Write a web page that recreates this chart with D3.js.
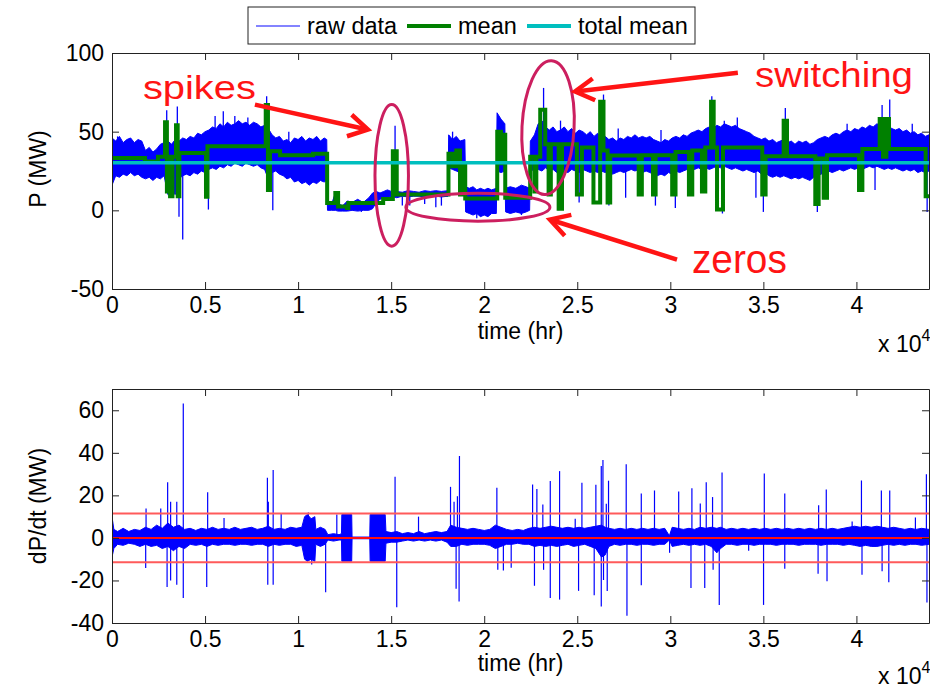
<!DOCTYPE html>
<html>
<head>
<meta charset="utf-8">
<script src="https://cdn.jsdelivr.net/npm/d3@7"></script>
<style>
  body { margin: 0; background: #fff; }
  svg { font-family: "Liberation Sans", Arial, sans-serif; }
</style>
</head>
<body>
<svg id="chart" width="930" height="690"></svg>
<script>
// ---- data (time in hr, power in MW) ----
const xTicks = [0, 5000, 10000, 15000, 20000, 25000, 30000, 35000, 40000];
const xTickLabels = ["0", "0.5", "1", "1.5", "2", "2.5", "3", "3.5", "4"];
const pTicks = [-50, 0, 50, 100];
const dTicks = [-40, -20, 0, 20, 40, 60];

// raw data band: [time, upper edge, lower edge]
const rawBand = [
  [0, 46, 16], [200, 44, 22], [400, 47, 21], [600, 43, 23], [800, 45, 22], [1000, 46, 24], [1200, 43, 22], [1400, 45, 23],
  [1600, 44, 21], [1800, 38, 20], [2000, 40, 21], [2200, 37, 19], [2400, 39, 21], [2600, 42, 20], [2800, 43, 22],
  [3000, 44, 10], [3200, 42, 12], [3400, 45, 10], [3600, 44, 20], [3800, 46, 22], [4000, 45, 23], [4200, 47, 22],
  [4400, 46, 24], [4600, 49, 23], [4800, 48, 25], [5000, 50, 24], [5200, 51, 26], [5400, 53, 27], [5600, 52, 26],
  [5800, 55, 28], [6000, 53, 27], [6200, 56, 29], [6400, 54, 28], [6600, 55, 30], [6800, 57, 29], [7000, 55, 28],
  [7200, 56, 30], [7400, 54, 29], [7600, 56, 28], [7800, 55, 29], [8000, 53, 27], [8200, 54, 26], [8400, 52, 20],
  [8600, 48, 24], [8800, 46, 25], [9000, 47, 23], [9200, 44, 22], [9400, 45, 20], [9600, 43, 21], [9800, 46, 18],
  [10000, 45, 19], [10200, 47, 17], [10400, 44, 18], [10600, 46, 16], [10800, 45, 18], [11000, 47, 17], [11200, 44, 19],
  [11400, 46, 18], [11540, 45, 19],
  [11580, 3, 0], [11800, 4, 0], [12000, 11, 0], [12150, 4, -0.5], [12400, 3, -0.5], [12650, 6, -0.5], [12900, 5, 0],
  [13200, 7, -0.5], [13500, 5, 0], [13800, 8, 0], [14000, 11, 1], [14200, 12, 5], [14400, 11, 7], [14600, 12, 8],
  [14800, 13, 8], [15000, 12, 9], [15300, 12, 8], [15600, 11.5, 9], [15900, 12.5, 8.5], [16200, 12, 9], [16500, 11.5, 9],
  [16800, 12.5, 8.5], [17100, 12, 9], [17400, 12.5, 9], [17700, 12, 8.5], [18060, 12.5, 9],
  [18090, 48, 27], [18300, 45, 26], [18500, 47, 25], [18700, 44, 24], [18960, 45, 22],
  [19000, 15, -1], [19200, 14, -2], [19400, 15, -3], [19600, 13, -2], [19800, 14, -4], [20000, 13, -3], [20200, 14, -4],
  [20400, 13, -2], [20650, 14, -2],
  [20690, 62, 25], [20900, 58, 24], [21110, 55, 25],
  [21150, 14, -1], [21400, 15, -2], [21700, 14, -1], [22000, 16, -2], [22250, 15, -1], [22440, 14, 0],
  [22480, 44, 25], [22700, 48, 26], [22900, 55, 26], [23100, 57, 25], [23300, 53, 27], [23500, 51, 25], [23700, 53, 26],
  [23900, 50, 24], [24100, 51, 26], [24300, 53, 25], [24500, 50, 24], [24700, 52, 26], [24900, 49, 25], [25100, 51, 24],
  [25300, 50, 26], [25500, 48, 25], [25700, 50, 24], [25900, 47, 25], [26100, 49, 24], [26300, 46, 25], [26500, 47, 24],
  [26700, 45, 25], [26900, 46, 23], [27100, 44, 24], [27300, 46, 25], [27500, 45, 24], [27700, 47, 25], [27900, 46, 26],
  [28100, 48, 25], [28300, 46, 26], [28500, 47, 24], [28700, 46, 25], [28900, 47, 24], [29100, 45, 23], [29300, 44, 22],
  [29500, 43, 23], [29700, 45, 22], [29900, 44, 24], [30100, 46, 23], [30300, 47, 25], [30500, 46, 24], [30700, 48, 25],
  [30900, 47, 26], [31100, 49, 25], [31300, 50, 26], [31500, 51, 27], [31700, 50, 26], [31900, 52, 27], [32100, 53, 26],
  [32300, 52, 27], [32500, 54, 28], [32700, 53, 27], [32900, 55, 28], [33100, 54, 27], [33300, 53, 26], [33500, 54, 27],
  [33700, 52, 26], [33900, 51, 25], [34100, 50, 26], [34300, 49, 25], [34500, 47, 24], [34700, 46, 25], [34900, 45, 23],
  [35100, 46, 24], [35300, 44, 22], [35500, 45, 21], [35700, 43, 22], [35900, 44, 21], [36100, 45, 22], [36300, 43, 21],
  [36500, 44, 20], [36700, 42, 21], [36900, 44, 20], [37100, 43, 21], [37300, 44, 20], [37500, 42, 19], [37700, 43, 21],
  [37900, 45, 22], [38100, 46, 23], [38300, 47, 24], [38500, 46, 25], [38700, 48, 24], [38900, 49, 25], [39100, 48, 26],
  [39300, 50, 25], [39500, 51, 26], [39700, 50, 27], [39900, 52, 26], [40100, 51, 27], [40300, 53, 26], [40500, 52, 27],
  [40700, 54, 28], [40900, 53, 27], [41100, 55, 28], [41300, 54, 27], [41500, 53, 26], [41700, 54, 27], [41900, 52, 26],
  [42100, 51, 27], [42300, 52, 26], [42500, 50, 25], [42700, 51, 26], [42900, 49, 25], [43100, 50, 26], [43300, 48, 24],
  [43500, 49, 25], [43700, 47, 24], [43900, 48, 25]
];

// single spikes of the raw data: [time, base, tip]
const rawSpikes = [[300, 40, 47], [2940, 45, 63.6], [3510, 45, 66], [5540, 45, 60], [5980, 48, 63], [6600, 50, 60], [7300, 50, 59],
                   [8310, 50, 72.5], [9500, 40, 50], [15210, 12, 53.8], [18300, 40, 50], [23190, 45, 77.8], [24100, 45, 57],
                   [26410, 45, 73.6], [27200, 40, 52], [29500, 40, 51], [32230, 45, 72.5], [32900, 48, 57], [33600, 48, 59],
                   [36180, 42, 65], [39500, 45, 55], [41380, 45, 67], [41790, 45, 70.4], [43000, 45, 55],
                   [0, 30, 15], [3600, 25, -4], [3800, 25, -18.6], [5180, 30, 0.5], [8640, 30, 0], [13400, 2, -1],
                   [15600, 9, 3], [16000, 9, 3], [16800, 9, 4], [17400, 9, 2], [17700, 9, 3], [19600, 2, -5], [22000, 2, -3],
                   [24000, 30, 0], [25100, 30, 5], [26700, 30, 3], [27600, 30, 8], [29200, 30, 3], [30270, 30, 1.5],
                   [32800, 30, -2], [34600, 30, 8], [35000, 30, -1], [37900, 30, -1], [41000, 30, 13], [43800, 30, -1]];

// segment mean (step after each time)
const meanT = [0, 1770, 2470, 2850, 2950, 3050, 3120, 3250, 3440, 3530, 3620, 5050, 5130, 8260, 8380, 8490, 9030, 10800,
               11560, 12000, 12150, 12630, 12700, 14570, 15090, 15300, 18080, 18300, 18500, 18700, 18800, 18980,
               20700, 20900, 21000, 21130, 22470, 22700, 22800, 23010, 23280, 23460, 23580, 24000, 24180, 24980, 25250,
               25870, 26230, 26410, 26630, 26770, 28300, 28470, 29070, 29210, 30100, 30280, 31000, 31180, 31700, 31880,
               32190, 32330, 32510, 32830, 34940, 35120, 36090, 36270, 37790, 37970, 38240, 38420, 40140, 40320,
               41250, 41430, 41610, 41750, 43720, 43900];
const meanV = [33.3, 31, 34, 56, 12, 34, 9, 34, 54, 9, 36.5, 8.6, 40.7, 67, 13, 37.5, 35, 36,
               4.7, 11, 2.5, 1.5, 4.7, 7.2, 37.5, 10, 36, 28, 38, 10, 30, 7.5,
               50, 30, 48, 8, 34, 12, 34, 64, 42, 10, 42, 1, 42, 10, 40,
               5, 69, 38, 5, 34.8, 10, 35, 10, 35, 10, 37, 10, 38, 12, 40,
               69, 40, 0.5, 40, 10, 34.4, 57, 34.4, 4, 33, 8, 35, 13, 39,
               58, 34, 58, 39, 9, 9];
const totalMean = 30.3;

// dP/dt band: [time, upper edge, lower edge]
const dBand = [
  [0, 10, -9], [100, 4, -5], [300, 3, -3], [600, 4.5, -3.5], [900, 3, -2.5], [1200, 4, -3], [1500, 3.5, -4], [1800, 5, -3],
  [2100, 4, -4], [2400, 6, -3.5], [2700, 4.5, -5], [3000, 7, -4], [3300, 5, -6], [3600, 6, -4], [3900, 4, -5], [4200, 4.5, -3],
  [4500, 3.5, -3.5], [4800, 4.5, -3], [5100, 4, -4], [5400, 5, -3], [5700, 4, -3.5], [6000, 4.5, -3], [6300, 4, -3],
  [6600, 5, -3.5], [6900, 4, -3], [7200, 4.5, -3], [7500, 5, -3.5], [7800, 4, -3], [8100, 4.5, -3], [8400, 5.5, -4],
  [8700, 4, -3], [9000, 4.5, -3.5], [9300, 4, -3], [9600, 5, -3], [9900, 4.5, -4], [10200, 5, -3.5],
  [10350, 10, -10], [10500, 11, -11], [10700, 9, -10], [10900, 10, -11], [10950, 4, -3], [11200, 5, -4], [11450, 4, -3],
  [11600, 1.5, -1], [11900, 2, -1.5], [12200, 1.5, -1], [12330, 2, -1], [12350, 11, -11], [12880, 11, -11],
  [12900, 0.4, -0.4], [13850, 0.4, -0.4], [13870, 11, -11], [14680, 11, -11],
  [14720, 3, -2.5], [15000, 2.5, -2], [15300, 3, -2], [15600, 2, -1.5], [15900, 2.5, -1], [16200, 2, -1.5], [16500, 3, -1],
  [16800, 2, -1.5], [17100, 2.5, -1], [17400, 3, -1.5], [17700, 2.5, -1], [18000, 3, -2], [18200, 6, -4], [18500, 5, -4],
  [18800, 4.5, -3], [19100, 4, -3.5], [19400, 4.5, -3], [19700, 4, -3], [20000, 3.5, -3], [20300, 4, -3.5], [20600, 6, -5],
  [20900, 5, -4], [21200, 4, -3], [21500, 3.5, -3], [21800, 4, -2.5], [22100, 3.5, -3], [22400, 4.5, -3], [22700, 5, -4],
  [23000, 4.5, -3.5], [23300, 5, -4], [23600, 5.5, -3.5], [23900, 5, -4], [24200, 4.5, -3.5], [24500, 5, -3], [24800, 4.5, -4],
  [25100, 5, -3.5], [25400, 4.5, -3], [25700, 5, -4], [26000, 5.5, -5], [26300, 6, -9], [26500, 5, -8], [26700, 4.5, -4],
  [27000, 4, -3], [27300, 4.5, -3.5], [27600, 4, -3], [27900, 4.5, -3], [28200, 4, -3.5], [28500, 4.5, -3], [28800, 4, -3],
  [29100, 4.5, -3.5], [29400, 4, -3], [29700, 4.5, -3], [29950, 1, -1], [30100, 5, -4], [30400, 4.5, -3.5], [30700, 4, -3],
  [31000, 4.5, -3.5], [31300, 4, -3], [31600, 5, -3.5], [31900, 4.5, -3], [32200, 5, -4], [32500, 4.5, -7], [32700, 5, -5],
  [33000, 4, -3], [33300, 4.5, -3], [33600, 4, -3.5], [33900, 4.5, -3], [34200, 4, -3], [34500, 4.5, -3.5], [34800, 4, -3],
  [35100, 4.5, -3], [35400, 4, -3], [35700, 4.5, -3.5], [36000, 4, -3], [36300, 4.5, -3], [36600, 4, -3], [36900, 4.5, -3.5],
  [37200, 4, -3], [37500, 4.5, -3], [37800, 4, -3], [38100, 4.5, -3.5], [38400, 4, -3], [38700, 4.5, -3], [39000, 4, -3],
  [39300, 4.5, -3.5], [39600, 5, -3], [39900, 5.5, -3.5], [40200, 5, -4], [40500, 5.5, -3.5], [40800, 5, -4], [41100, 5.5, -4],
  [41400, 5, -3.5], [41700, 4.5, -3], [42000, 5, -3.5], [42300, 4.5, -3], [42600, 4, -3.5], [42900, 4.5, -3], [43200, 4, -3],
  [43500, 4.5, -3.5], [43900, 4, -3]
];

// dP/dt spikes: [time, tip]
const dSpikes = [[3830, 63.2], [2990, 26.2], [3150, 17], [3480, 17], [2620, 13.8], [1830, 13.8], [5140, 21.5], [6020, 9.4],
                 [8350, 28.3], [8660, 31.9], [8400, 17], [9090, 11.6], [15210, 28.8], [16470, 10], [18190, 24], [18670, 38.5],
                 [18560, 19.6], [18380, 17], [20680, 23.6], [10550, 12], [12080, 11],
                 [22600, 25.1], [22830, 23], [23150, 15.7], [23550, 26.7], [24050, 31.4], [24890, 9], [25250, 25.9], [26000, 25],
                 [26290, 33.8], [26380, 36.6], [26680, 26.9], [26560, 16], [27630, 34.6], [28440, 20.9], [29150, 22.3],
                 [30450, 21.8], [31160, 23.4], [31610, 16.2], [31930, 26.2], [32270, 19.2], [32780, 30.8], [35050, 30.3],
                 [36150, 20.9], [37970, 15.4], [38380, 22.8], [40270, 27], [41340, 22.3], [41790, 22.3], [43170, 9.6],
                 [43760, 29.9], [39770, 7.7],
                 [1810, -14.2], [2960, -23.1], [3150, -20], [3480, -22], [3830, -28.3], [5090, -23.1], [8370, -22], [8660, -22],
                 [10730, -12.5], [11480, -25.6], [15300, -32.6], [18490, -23.9], [18650, -29.9], [20730, -15], [21030, -15.3],
                 [21450, -14], [22700, -22.5], [23190, -15], [23550, -28.3], [24050, -29], [25070, -24.9], [25910, -27],
                 [26290, -32.3], [26410, -19.8], [26610, -25], [27670, -36.6], [28440, -22.2], [29960, -7], [31110, -23.5],
                 [31850, -23.5], [32300, -15], [32630, -31.5], [34210, -6], [35010, -31.5], [36150, -14.5], [37940, -16.8],
                 [38420, -20.4], [40300, -17.3], [41380, -15.7], [41740, -20.8], [43790, -30.4]];
const threshold = 11.5;

// ---- layout ----
const svg = d3.select("#chart");
const left = 112, right = 929;
const topBox = { y0: 53, y1: 289 };
const botBox = { y0: 389, y1: 623 };
const fontSize = 23;
const fontFamily = "Liberation Sans, Arial, sans-serif";

const x = d3.scaleLinear().domain([0, 43900]).range([left, right]);
const yP = d3.scaleLinear().domain([-50, 100]).range([topBox.y1, topBox.y0]);
const yD = d3.scaleLinear().domain([-40, 70]).range([botBox.y1, botBox.y0]);

const blue = "#0000ff", green = "#008000", cyan = "#00bfbf";

function clip(id, box) {
    svg.append("clipPath").attr("id", id).append("rect")
        .attr("x", left).attr("y", box.y0).attr("width", right - left).attr("height", box.y1 - box.y0);
}
clip("clip-top", topBox);
clip("clip-bot", botBox);

// axes with inward ticks on all four sides
function frame(box, yScale, yTicks) {
    const g = svg.append("g");
    const fmt = d => xTickLabels[xTicks.indexOf(d)];
    const axes = [
        g.append("g").attr("transform", `translate(0,${box.y1})`)
            .call(d3.axisBottom(x).tickValues(xTicks).tickFormat(fmt).tickSizeInner(-7).tickSizeOuter(0).tickPadding(8)),
        g.append("g").attr("transform", `translate(0,${box.y0})`)
            .call(d3.axisTop(x).tickValues(xTicks).tickFormat("").tickSizeInner(-7).tickSizeOuter(0)),
        g.append("g").attr("transform", `translate(${left},0)`)
            .call(d3.axisLeft(yScale).tickValues(yTicks).tickFormat(d => String(d)).tickSizeInner(-7).tickSizeOuter(0).tickPadding(8)),
        g.append("g").attr("transform", `translate(${right},0)`)
            .call(d3.axisRight(yScale).tickValues(yTicks).tickFormat("").tickSizeInner(-7).tickSizeOuter(0))
    ];
    axes.forEach(a => a.attr("font-size", fontSize).attr("font-family", fontFamily));
    g.selectAll(".domain, .tick line").attr("stroke", "#222").attr("stroke-width", 1);
    g.selectAll("text").attr("fill", "#000");
    return g;
}

// ---- top plot: P ----
const gTop = svg.append("g").attr("clip-path", "url(#clip-top)");
gTop.append("path").datum(rawBand)
    .attr("d", d3.area().x(d => x(d[0])).y0(d => yP(d[2])).y1(d => yP(d[1])))
    .attr("fill", blue).attr("stroke", blue).attr("stroke-width", 1);
gTop.selectAll("line.spike").data(rawSpikes).join("line")
    .attr("x1", d => x(d[0])).attr("x2", d => x(d[0]))
    .attr("y1", d => yP(d[1])).attr("y2", d => yP(d[2]))
    .attr("stroke", blue).attr("stroke-width", 1.3);
gTop.append("path").datum(d3.zip(meanT, meanV))
    .attr("d", d3.line().x(d => x(d[0])).y(d => yP(d[1])).curve(d3.curveStepAfter))
    .attr("fill", "none").attr("stroke", green).attr("stroke-width", 4);
gTop.append("line")
    .attr("x1", x(0)).attr("x2", x(43900)).attr("y1", yP(totalMean)).attr("y2", yP(totalMean))
    .attr("stroke", cyan).attr("stroke-width", 3.5);
frame(topBox, yP, pTicks);

// ---- bottom plot: dP/dt ----
const gBot = svg.append("g").attr("clip-path", "url(#clip-bot)");
gBot.append("path").datum(dBand)
    .attr("d", d3.area().x(d => x(d[0])).y0(d => yD(d[2])).y1(d => yD(d[1])))
    .attr("fill", blue).attr("stroke", blue).attr("stroke-width", 1);
gBot.selectAll("line.spike").data(dSpikes).join("line")
    .attr("x1", d => x(d[0])).attr("x2", d => x(d[0]))
    .attr("y1", yD(0)).attr("y2", d => yD(d[1]))
    .attr("stroke", blue).attr("stroke-width", 1.2);
[threshold, -threshold].forEach(v => {
    gBot.append("line").attr("x1", left).attr("x2", right).attr("y1", yD(v)).attr("y2", yD(v))
        .attr("stroke", "#ff5a5a").attr("stroke-width", 2);
});
gBot.append("line").attr("x1", left).attr("x2", right).attr("y1", yD(0)).attr("y2", yD(0))
    .attr("stroke", "#ff1010").attr("stroke-width", 2);
frame(botBox, yD, dTicks);

// ---- axis titles ----
function xTitle(baseline) {
    svg.append("text").attr("x", (left + right) / 2).attr("y", baseline)
        .attr("text-anchor", "middle").attr("font-size", fontSize).text("time (hr)");
    const e = svg.append("text").attr("x", 878).attr("y", baseline + 13).attr("font-size", fontSize);
    e.append("tspan").text("x 10");
    e.append("tspan").attr("font-size", 16).attr("dy", -11).text("4");
}
xTitle(339);
xTitle(671);
svg.append("text").attr("transform", `translate(46,${(topBox.y0 + topBox.y1) / 2 - 2}) rotate(-90)`)
    .attr("text-anchor", "middle").attr("font-size", fontSize).text("P (MW)");
svg.append("text").attr("transform", `translate(46,${(botBox.y0 + botBox.y1) / 2}) rotate(-90)`)
    .attr("text-anchor", "middle").attr("font-size", fontSize).text("dP/dt (MW)");

// ---- legend ----
const leg = svg.append("g");
leg.append("rect").attr("x", 248).attr("y", 7).attr("width", 447).attr("height", 37)
    .attr("fill", "#fff").attr("stroke", "#222").attr("stroke-width", 1);
const legendItems = [
    { label: "raw data", color: "#5a5aff", width: 1.5, x: 256 },
    { label: "mean", color: green, width: 4, x: 407 },
    { label: "total mean", color: cyan, width: 4, x: 527 }
];
legendItems.forEach(d => {
    leg.append("line").attr("x1", d.x).attr("x2", d.x + 44).attr("y1", 26).attr("y2", 26)
        .attr("stroke", d.color).attr("stroke-width", d.width);
    leg.append("text").attr("x", d.x + 51).attr("y", 34).attr("font-size", 23.5).text(d.label);
});

// ---- annotations (positions in data units of the top plot) ----
const red = "#ff1414", crimson = "#cc1f5f";
const notes = svg.append("g");
function ellipse(t, v, rt, rv, rot) {
    notes.append("ellipse")
        .attr("cx", x(t)).attr("cy", yP(v))
        .attr("rx", x(t + rt) - x(t)).attr("ry", yP(v - rv) - yP(v))
        .attr("transform", `rotate(${rot},${x(t)},${yP(v)})`)
        .attr("fill", "none").attr("stroke", crimson).attr("stroke-width", 3);
}
ellipse(15030, 22.2, 900, 45, 0);
ellipse(19660, 2, 3870, 8.9, 0);
ellipse(23430, 52.6, 1400, 42.6, 3);

function arrow(t0, v0, t1, v1) {
    const x0 = x(t0), y0 = yP(v0), x1 = x(t1), y1 = yP(v1);
    const a = Math.atan2(y1 - y0, x1 - x0);
    const L = 19, Wd = 11;
    const bx = x1 - L * Math.cos(a), by = y1 - L * Math.sin(a);
    const px = -Math.sin(a), py = Math.cos(a);
    notes.append("line").attr("x1", x0).attr("y1", y0).attr("x2", x1 - 3 * Math.cos(a)).attr("y2", y1 - 3 * Math.sin(a))
        .attr("stroke", red).attr("stroke-width", 4.5);
    notes.append("polyline")
        .attr("points", [[bx + Wd * px, by + Wd * py], [x1, y1], [bx - Wd * px, by - Wd * py]].map(p => p.join(",")).join(" "))
        .attr("fill", "none").attr("stroke", red).attr("stroke-width", 4.5).attr("stroke-linejoin", "miter");
}
arrow(7680, 67.2, 13750, 51.3);
arrow(33630, 87.5, 24880, 75.5);
arrow(30360, -31.3, 23530, -5.9);

function label(t, v, txt, size, len) {
    notes.append("text").attr("x", x(t)).attr("y", yP(v)).attr("font-size", size)
        .attr("fill", red).attr("textLength", len).attr("lengthAdjust", "spacingAndGlyphs").text(txt);
}
label(1660, 71, "spikes", 34, 113);
label(34550, 78.6, "switching", 35, 158);
label(31160, -39.6, "zeros", 41, 95);
</script>
</body>
</html>
